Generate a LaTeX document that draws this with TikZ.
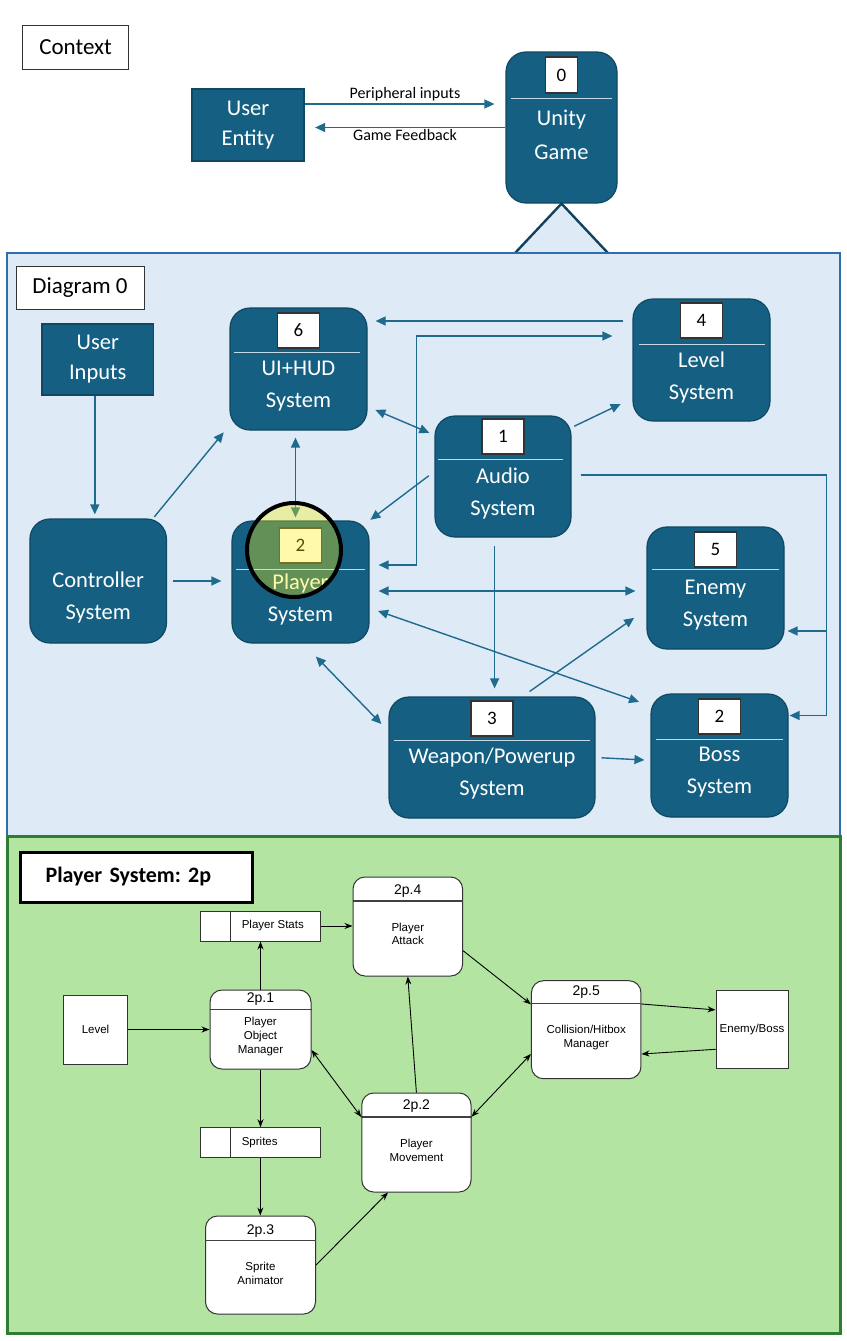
\documentclass[tikz,border=0pt]{standalone}
\usepackage{fontspec}
\setmainfont{Carlito}
\newfontfamily\arialfont{Liberation Sans}
\usetikzlibrary{arrows.meta, positioning}

\definecolor{procblue}{HTML}{156082}
\definecolor{procedge}{HTML}{0F4863}
\definecolor{flowblue}{HTML}{1F6B8E}
\definecolor{sepblue}{HTML}{C4D9E6}
\definecolor{diagfill}{HTML}{DEEBF7}
\definecolor{diagedge}{HTML}{2E6EAE}
\definecolor{subfill}{HTML}{B3E4A2}
\definecolor{subedge}{HTML}{2E7D32}
\definecolor{wedge}{HTML}{12425C}

\newcommand{\fsz}[2]{\fontsize{#1}{#2}\selectfont}

\begin{document}
\begin{tikzpicture}[
    x = 1pt, y = -1pt,
    %
    proc/.style = {draw = procedge, line width = 1.2pt,
      fill = procblue, rounded corners = 20pt},
    entity/.style = {draw = procedge, line width = 1.2pt,
      fill = procblue, text = white, align = center,
      font = \fsz{22.5}{30}},
    proctext/.style = {text = white, align = center,
      font = \fsz{22.5}{32}},
    numbox/.style = {draw = black!80, line width = 1.2pt, fill = white,
      font = \fsz{19}{22}, inner sep = 0pt,
      minimum width = 42pt, minimum height = 35pt},
    divider/.style = {draw = sepblue, line width = 1.6pt},
    labelbox/.style = {draw = black!80, line width = 1pt, fill = white,
      font = \fsz{23}{26}},
    flow/.style = {draw = flowblue, line width = 1.4pt,
      -{Triangle[length = 10pt, width = 9pt]}},
    flows/.style = {flow,
      {Triangle[length = 10pt, width = 9pt]}-{Triangle[length = 10pt, width = 9pt]}},
    flowlabel/.style = {font = \fsz{16}{18}, inner sep = 2pt},
    highlight/.style = {draw = black, line width = 4pt,
      fill = yellow, fill opacity = 0.33},
    %
    titlebox/.style = {draw = black, line width = 3pt, fill = white,
      minimum height = 50pt, text width = 182pt, inner xsep = 25pt,
      align = left, font = \frenchspacing\bfseries\fsz{22}{26}},
    subproc/.style = {draw = black!80, line width = 1pt, fill = white,
      rounded corners = 12pt},
    subnum/.style = {font = \arialfont\fsz{14}{16}, inner sep = 0pt},
    subdivider/.style = {draw = black!75, line width = 1.6pt},
    subtext/.style = {font = \arialfont\fsz{11.5}{13.8}, align = center},
    store/.style = {draw = black!80, line width = 1pt, fill = white,
      minimum width = 119.4pt, minimum height = 30pt},
    storetext/.style = {font = \arialfont\fsz{11.5}{13.8}, inner sep = 0pt,
      anchor = west},
    extern/.style = {draw = black!80, line width = 1pt, fill = white,
      font = \arialfont\fsz{11.5}{13.8}},
    dataflow/.style = {draw = black, line width = 0.9pt,
      -{Stealth[length = 8pt, width = 6pt]}},
    dataflows/.style = {dataflow,
      {Stealth[length = 8pt, width = 6pt]}-{Stealth[length = 8pt, width = 6pt]}},
    ]

    \useasboundingbox (0, 0) rectangle (846, 1341);

    % context
    \node at (75.6, 47.6)
    [labelbox, minimum width = 105.7pt, minimum height = 43.3pt, name = ctx] {Context};

    \node at (248, 125)
    [entity, minimum width = 112pt, minimum height = 72pt, name = UE] {User\\Entity};

    \node at (561.5, 127.5)
    [proc, minimum width = 111pt, minimum height = 151pt, name = Unity] {};
    \node [numbox, minimum width = 32pt, minimum height = 36pt,
      below = 5pt of Unity.north, name = Unity-n] {0};
    \draw [divider] ([xshift = 6pt, yshift = -47pt]Unity.north west)
    -- ([xshift = -6pt, yshift = -47pt]Unity.north east);
    \node at ([yshift = -7.5pt]Unity.center)
    [proctext, font = \fsz{22.5}{34}, name = Unity-t] {Unity\\Game};

    \coordinate (pin) at ([yshift = 21pt]UE.east);
    \draw [flow, shorten >= 11pt] (pin) to node [midway, above, flowlabel]
    {Peripheral inputs} (pin -| Unity.west);

    \draw [flow, shorten >= 10.5pt] (Unity.west) to node [midway, below, flowlabel, inner sep = 1pt]
    {Game Feedback} (Unity.west -| UE.east);

    \draw [draw = wedge, line width = 2.4pt, fill = diagfill]
    ([xshift = -47pt, yshift = -50pt]Unity.south) -- (Unity.south)
    -- ([xshift = 47pt, yshift = -50pt]Unity.south);

    % diagram 0
    \draw [draw = diagedge, line width = 2pt, fill = diagfill] (7, 253) rectangle (840, 836);
    \draw [draw = subedge, line width = 3pt, fill = subfill] (7, 836) rectangle (840, 1333);

    \node at (80, 287.5)
    [labelbox, minimum width = 128pt, minimum height = 43pt, name = d0] {Diagram 0};

    \node at (97.8, 359.5)
    [entity, minimum width = 111.5pt, minimum height = 71pt, name = UIn] {User\\Inputs};

    \node at (298.5, 369)
    [proc, minimum width = 137pt, minimum height = 122pt, name = UI] {};
    \node [numbox, below = 5pt of UI.north, name = UI-n] {6};
    \draw [divider] ([xshift = 5pt, yshift = -45pt]UI.north west)
    -- ([xshift = -8pt, yshift = -45pt]UI.north east);
    \node at ([yshift = -17pt]UI.center) [proctext, name = UI-t] {UI+HUD\\System};

    \node at (701.5, 360)
    [proc, minimum width = 137pt, minimum height = 122pt, name = Level] {};
    \node [numbox, below = 4pt of Level.north, name = Level-n] {4};
    \draw [divider] ([xshift = 7pt, yshift = -46pt]Level.north west)
    -- ([xshift = -6pt, yshift = -46pt]Level.north east);
    \node at ([yshift = -17pt]Level.center) [proctext, name = Level-t] {Level\\System};

    \node at (503, 476.5)
    [proc, minimum width = 136pt, minimum height = 121pt, name = Audio] {};
    \node [numbox, below = 3pt of Audio.north, name = Audio-n] {1};
    \draw [divider] ([xshift = 4pt, yshift = -44pt]Audio.north west)
    -- ([xshift = -9pt, yshift = -44pt]Audio.north east);
    \node at ([yshift = -17pt]Audio.center) [proctext, name = Audio-t] {Audio\\System};

    \node at (98.2, 581)
    [proc, minimum width = 136.5pt, minimum height = 124pt, name = Ctrl] {};
    \node at ([yshift = -16pt]Ctrl.center) [proctext, name = Ctrl-t] {Controller\\System};

    \node at (300.5, 582)
    [proc, minimum width = 137pt, minimum height = 122pt, name = Player] {};
    \node [numbox, below = 7pt of Player.north, name = Player-n] {2};
    \draw [divider] ([xshift = 5pt, yshift = -49pt]Player.north west)
    -- ([xshift = -5pt, yshift = -49pt]Player.north east);
    \node at ([yshift = -17pt]Player.center) [proctext, name = Player-t] {Player\\System};

    \node at (715.5, 588)
    [proc, minimum width = 137pt, minimum height = 122pt, name = Enemy] {};
    \node [numbox, below = 5pt of Enemy.north, name = Enemy-n] {5};
    \draw [divider] ([xshift = 6pt, yshift = -43pt]Enemy.north west)
    -- ([xshift = -6pt, yshift = -43pt]Enemy.north east);
    \node at ([yshift = -17pt]Enemy.center) [proctext, name = Enemy-t] {Enemy\\System};

    \node at (492, 757.5)
    [proc, minimum width = 206pt, minimum height = 121pt, name = Weapon] {};
    \node [numbox, below = 4pt of Weapon.north, name = Weapon-n] {3};
    \draw [divider] ([xshift = 6pt, yshift = -44pt]Weapon.north west)
    -- ([xshift = -6pt, yshift = -44pt]Weapon.north east);
    \node at ([yshift = -16pt]Weapon.center) [proctext, name = Weapon-t] {Weapon/Powerup\\System};

    \node at (719.5, 755.5)
    [proc, minimum width = 137pt, minimum height = 123pt, name = Boss] {};
    \node [numbox, below = 5pt of Boss.north, name = Boss-n] {2};
    \draw [divider] ([xshift = 6pt, yshift = -46pt]Boss.north west)
    -- ([xshift = -6pt, yshift = -46pt]Boss.north east);
    \node at ([yshift = -16.5pt]Boss.center) [proctext, name = Boss-t] {Boss\\System};

    \coordinate (uin) at ([xshift = -3pt]UIn.south);
    \draw [flow, shorten >= 4pt] (uin) -- (uin |- Ctrl.north);

    \draw [flow, shorten <= 9pt, shorten >= 8pt]
    ([yshift = 39pt]Level.west) -- ([yshift = 48pt]UI.east);

    \draw [flows, shorten <= 9pt, shorten >= 20pt]
    ([yshift = 17pt]Player.east) -- ++(47, 0) |- ([yshift = 24pt]Level.west);

    \draw [flows, shorten <= 8.5pt, shorten >= 5.5pt]
    ([yshift = -37.6pt]UI.east) -- ([yshift = 41.5pt]Audio.west);

    \draw [flow, shorten <= 3pt, shorten >= 13pt]
    ([yshift = 49pt]Audio.east) -- ([yshift = -38.4pt]Level.west);

    \draw [flow, shorten <= 2pt, shorten >= 9pt]
    ([xshift = -14pt]Ctrl.north east) -- ([yshift = -56.4pt]UI.west);

    \draw [flows, shorten <= 7pt, shorten >= 3pt]
    ([xshift = -3pt]UI.south) -- ([xshift = -5pt]Player.north);

    \draw [flow, shorten <= 7pt, shorten >= 1pt]
    ([yshift = 5pt]Audio.west) -- (Player.north east);

    \draw [flow, shorten <= 9pt, shorten >= 1pt]
    ([yshift = 1.5pt]Audio.east) -- ++(255, 0) coordinate (bus)
    |- ([yshift = 40pt]Boss.east);
    \coordinate (e5) at ([yshift = -43pt]Enemy.east);
    \draw [flow, shorten >= 3pt] (bus |- e5) -- (e5);

    \draw [flow, shorten <= 6pt, shorten >= 10pt] (Ctrl.east) -- (Ctrl.east -| Player.west);

    \coordinate (p5) at ([yshift = -9pt]Player.east);
    \draw [flows, shorten <= 9pt, shorten >= 11pt] (p5) -- (p5 -| Enemy.west);

    \draw [flows, shorten <= 9pt, shorten >= 12pt]
    ([yshift = -26pt]Player.east) -- ([yshift = 49.6pt]Boss.west);

    \coordinate (a3) at ([xshift = -8.4pt]Audio.south);
    \draw [flow, shorten <= 8.5pt, shorten >= 8pt] (a3) -- (a3 |- Weapon.north);

    \draw [flows, shorten <= 18pt, shorten >= 10pt]
    ([xshift = 2.8pt]Player.south) -- ([yshift = 26.3pt]Weapon.west);

    \draw [flow, shorten <= 8.6pt, shorten >= 15pt]
    ([xshift = 30.6pt]Weapon.north) -- ([yshift = -21.2pt]Enemy.west);

    \draw [flow, shorten <= 6pt, shorten >= 6pt]
    (Weapon.east) -- ([yshift = -4.8pt]Boss.west);

    \draw [highlight] ([xshift = -6.5pt, yshift = 32pt]Player.center) circle (47pt);

    % player system: 2p
    \node at (136.6, 877) [titlebox, name = ps] {Player System: 2p};

    \node at (260.3, 926) [store, name = Stats] {};
    \draw [draw = black!80, line width = 1pt]
    ([xshift = 30pt]Stats.north west) -- ([xshift = 30pt]Stats.south west);
    \node at ([xshift = 41.5pt]Stats.west) [storetext, name = Stats-t] {Player Stats};

    \node at (260.3, 1142.7) [store, name = Sprites] {};
    \draw [draw = black!80, line width = 1pt]
    ([xshift = 30pt]Sprites.north west) -- ([xshift = 30pt]Sprites.south west);
    \node at ([xshift = 41.5pt]Sprites.west) [storetext, name = Sprites-t] {Sprites};

    \node at (407.8, 926.5)
    [subproc, minimum width = 109.6pt, minimum height = 99pt, name = P4] {};
    \node at ([yshift = -14.7pt]P4.north) [subnum, name = P4-n] {2p.4};
    \draw [subdivider] ([yshift = -24.7pt]P4.north west) -- ([yshift = -24.7pt]P4.north east);
    \node at ([yshift = -7.4pt]P4.center) [subtext, name = P4-t] {Player\\Attack};

    \node at (260.5, 1029.5)
    [subproc, minimum width = 101pt, minimum height = 79pt, name = P1] {};
    \node at ([yshift = -10pt]P1.north) [subnum, name = P1-n] {2p.1};
    \draw [subdivider] ([yshift = -20pt]P1.north west) -- ([yshift = -20pt]P1.north east);
    \node at ([yshift = -6.8pt]P1.center) [subtext, name = P1-t] {Player\\Object\\Manager};

    \node at (586.2, 1029.7)
    [subproc, minimum width = 109.5pt, minimum height = 98pt, name = P5] {};
    \node at ([yshift = -12.3pt]P5.north) [subnum, name = P5-n] {2p.5};
    \draw [subdivider] ([yshift = -23.3pt]P5.north west) -- ([yshift = -23.3pt]P5.north east);
    \node at ([yshift = -7.6pt]P5.center) [subtext, name = P5-t] {Collision/Hitbox\\Manager};

    \node at (416.4, 1142.5)
    [subproc, minimum width = 109.3pt, minimum height = 99pt, name = P2] {};
    \node at ([yshift = -13.7pt]P2.north) [subnum, name = P2-n] {2p.2};
    \draw [subdivider] ([yshift = -24.7pt]P2.north west) -- ([yshift = -24.7pt]P2.north east);
    \node at ([yshift = -7.5pt]P2.center) [subtext, name = P2-t] {Player\\Movement};

    \node at (260.5, 1265)
    [subproc, minimum width = 110pt, minimum height = 98pt, name = P3] {};
    \node at ([yshift = -15.7pt]P3.north) [subnum, name = P3-n] {2p.3};
    \draw [subdivider] ([yshift = -25pt]P3.north west) -- ([yshift = -25pt]P3.north east);
    \node at ([yshift = -8pt]P3.center) [subtext, name = P3-t] {Sprite\\Animator};

    \node at (95.5, 1029.5)
    [extern, minimum width = 64pt, minimum height = 69pt, name = Lvl] {Level};
    \node at (752, 1029.9)
    [extern, minimum width = 72pt, minimum height = 78pt, name = EB] {Enemy/Boss};

    \draw [dataflow] (Stats.east) -- (Stats.east -| P4.west);
    \draw [dataflow] (P1.north) -- (P1.north |- Stats.south);
    \draw [dataflow] (Lvl.east) -- (Lvl.east -| P1.west);
    \draw [dataflow] (P1.south) -- (P1.south |- Sprites.north);
    \draw [dataflow] (Sprites.south) -- (Sprites.south |- P3.north);
    \draw [dataflow] (P3.east) -- ([xshift = -28.4pt]P2.south);
    \draw [dataflows] ([yshift = -20.5pt]P1.east) -- ([yshift = 25.5pt]P2.west);
    \draw [dataflow] (P2.north) -- (P4.south);
    \draw [dataflow] ([yshift = -24.2pt]P4.east) -- ([yshift = 25.4pt]P5.west);
    \draw [dataflows] ([yshift = 25.8pt]P2.east) -- ([yshift = -24.3pt]P5.west);
    \draw [dataflow] ([yshift = 25.7pt]P5.east) -- ([yshift = 20pt]EB.west);
    \draw [dataflow] ([yshift = -19.4pt]EB.west) -- ([yshift = -24.3pt]P5.east);

  \end{tikzpicture}
\end{document}
